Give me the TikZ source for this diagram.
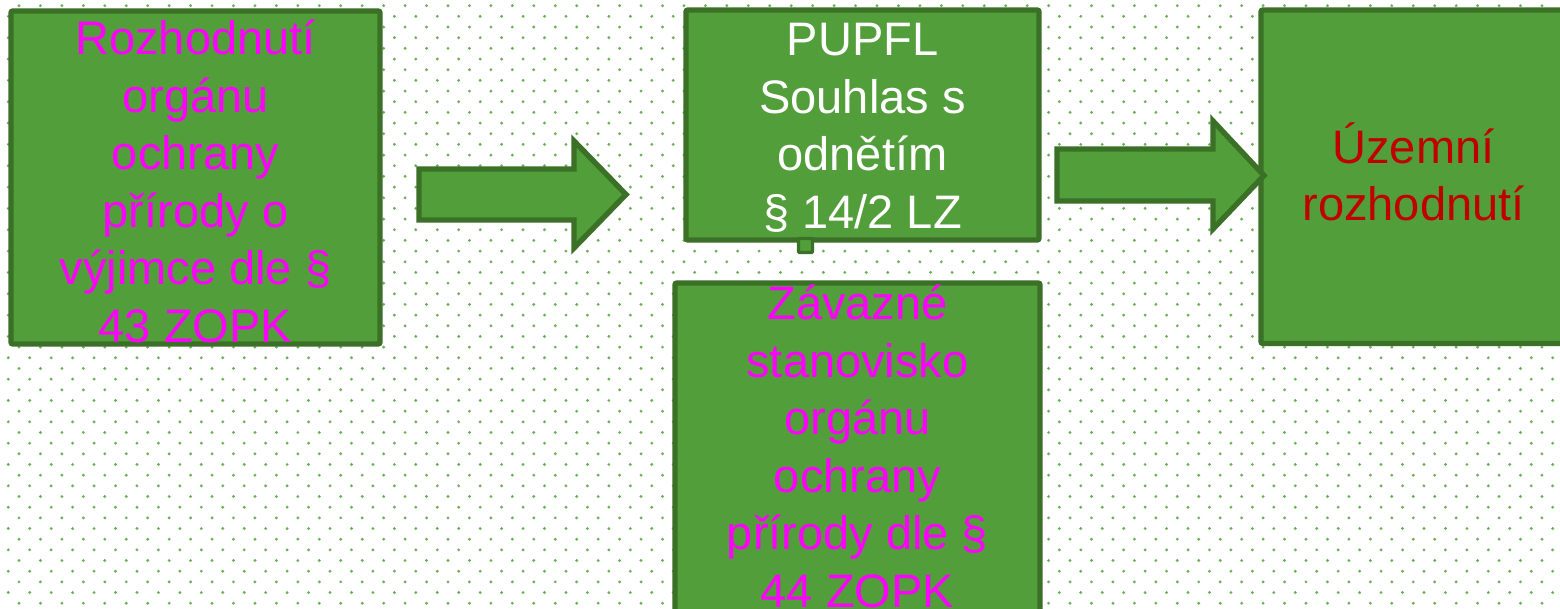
\documentclass[tikz,border=0pt]{standalone}
\usepackage{fontspec}
\setmainfont{Liberation Sans}
\definecolor{boxfill}{RGB}{82,158,58}
\definecolor{boxline}{RGB}{59,112,39}
\definecolor{dotc}{RGB}{108,176,92}
\definecolor{magentatxt}{RGB}{255,0,255}
\definecolor{redtxt}{RGB}{192,0,0}
\begin{document}
\begin{tikzpicture}[x=0.5pt,y=-0.5pt,
  box/.style={draw=boxline, fill=boxfill, line width=2.7pt, rounded corners=1pt, inner sep=0pt, outer sep=0pt},
  blockarrow/.style={draw=boxline, fill=boxfill, line width=2.7pt, line join=miter},
  txt/.style={font=\fontsize{23.5}{28.8}\selectfont, align=center, inner sep=0pt}]
\useasboundingbox (0,0) rectangle (1560,609);
\clip (0,0) rectangle (1560,609);
\fill[white] (0,0) rectangle (1560,609);
\foreach \k in {0,...,57}{
  \foreach \j in {-1,...,72}{
    \pgfmathsetmacro\xx{19+21.45*\j+10.725*mod(\k,2)}
    \pgfmathsetmacro\yy{5.7+10.67*\k}
    \fill[dotc] (\xx,\yy) circle[radius=0.8pt];
  }}
% boxes
\node[box, minimum width=184.5pt, minimum height=166.5pt] (b1) at (195.5,177.5) {};
\node[box, minimum width=176.5pt, minimum height=115pt] (b2) at (862.5,125) {};
\node[box, minimum width=182.5pt, minimum height=171pt] (b3) at (857.5,454) {};
\node[box, minimum width=159.5pt, minimum height=166.75pt] (b4) at (1420.5,176.75) {};
\node[box, line width=1.6pt, rounded corners=0.5pt, minimum width=7pt, minimum height=7pt] (tab) at (805.5,245.5) {};
% block arrows
\draw[blockarrow] (419,169) -- (574,169) -- (574,141) -- (626,194.5) -- (574,248) -- (574,220) -- (419,220) -- cycle;
\draw[blockarrow] (1057,149) -- (1213,149) -- (1213,121) -- (1264,175.5) -- (1213,229) -- (1213,201) -- (1057,201) -- cycle;
% texts
\node[txt, text=magentatxt] (t1) at ([yshift=-2pt]b1.center) {Rozhodnutí\\orgánu\\ochrany\\přírody o\\výjimce dle §\\43 ZOPK};
\node[txt, text=white] (t2) at ([yshift=-1.5pt]b2.center) {PUPFL\\Souhlas s\\odnětím\\§ 14/2 LZ};
\node[txt, text=magentatxt] (t3) at ([yshift=3.75pt]b3.center) {Závazné\\stanovisko\\orgánu\\ochrany\\přírody dle §\\44 ZOPK};
\node[txt, text=redtxt] (t4) at (1413.5,172) {Územní\\rozhodnutí};
\end{tikzpicture}
\end{document}
